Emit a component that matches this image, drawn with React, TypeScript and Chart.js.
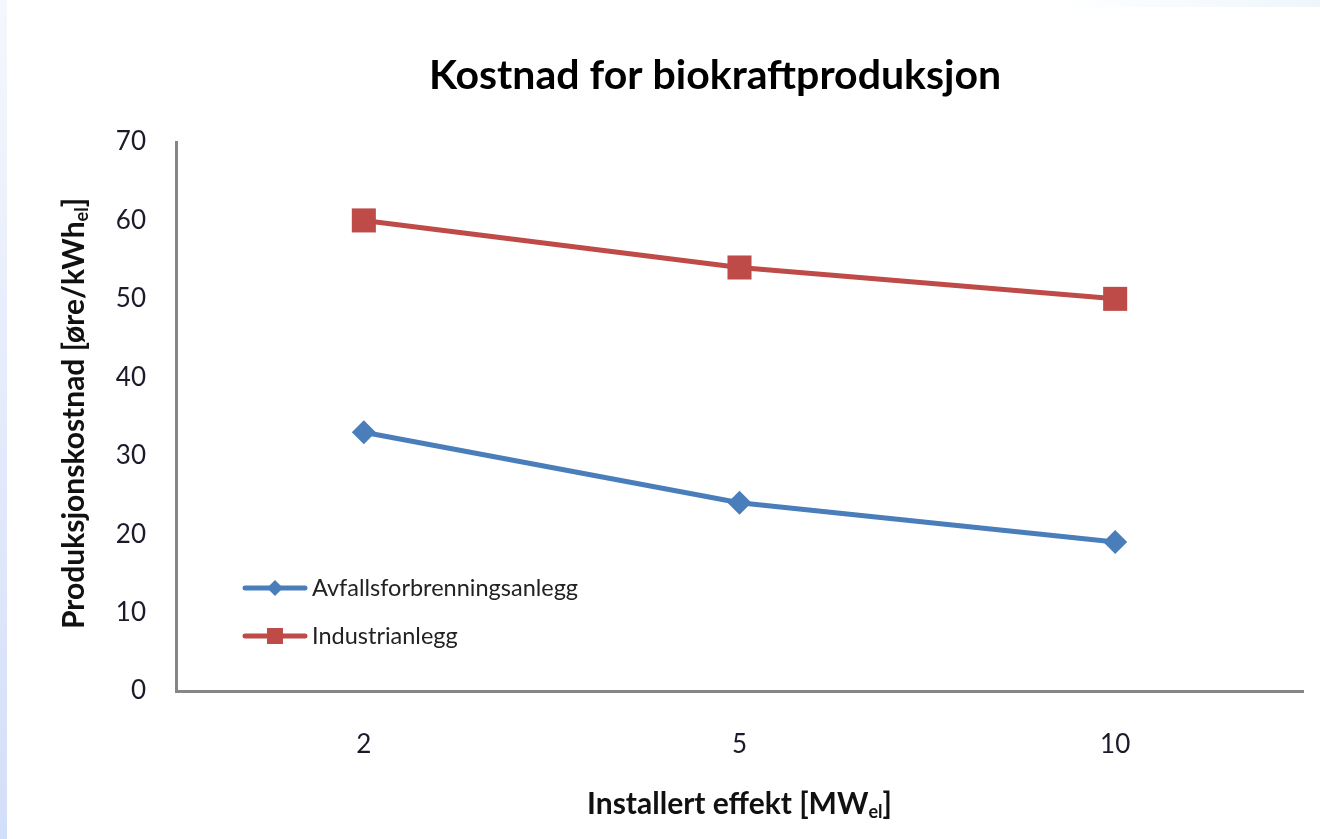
import React, { useEffect, useRef } from "react";
import { Chart, registerables } from "chart.js";

Chart.register(...registerables);

const TITLE = "Kostnad for biokraftproduksjon";
const X_TITLE_MAIN = "Installert effekt [MW";
const Y_TITLE_MAIN = "Produksjonskostnad [øre/kWh";
const TITLE_SUB = "el";
const CATEGORIES = ["2", "5", "10"];
const SERIES_NAMES = ["Avfallsforbrenningsanlegg", "Industrianlegg"];
const AVFALL = [33, 24, 19];
const INDUSTRI = [60, 54, 50];
const Y_MIN = 0;
const Y_MAX = 70;
const Y_STEP = 10;

const BLUE = "#4A7EBB";
const RED = "#BE4B48";
const FONT = "Lato, 'Open Sans', sans-serif";

const W = 1320;
const H = 839;

function drawSubText(ctx: CanvasRenderingContext2D, main: string, sub: string, cx: number, cy: number, size: number) {
  const subSize = Math.round(size * 0.6);
  ctx.font = `bold ${size}px ${FONT}`;
  const mw = ctx.measureText(main).width;
  ctx.font = `bold ${subSize}px ${FONT}`;
  const sw = ctx.measureText(sub).width;
  ctx.font = `bold ${size}px ${FONT}`;
  const bw = ctx.measureText("]").width;
  const total = mw + sw + bw;
  let x = cx - total / 2;
  ctx.textBaseline = "middle";
  ctx.textAlign = "left";
  ctx.fillText(main, x, cy);
  x += mw;
  ctx.font = `bold ${subSize}px ${FONT}`;
  ctx.fillText(sub, x, cy + size * 0.28);
  x += sw;
  ctx.font = `bold ${size}px ${FONT}`;
  ctx.fillText("]", x, cy);
}

const decorPlugin = {
  id: "decor",
  afterDraw(chart: any) {
    const ctx: CanvasRenderingContext2D = chart.ctx;
    const area = chart.chartArea;
    ctx.save();
    // chart title
    ctx.fillStyle = "#000";
    ctx.font = `bold 41px ${FONT}`;
    ctx.textAlign = "center";
    ctx.textBaseline = "middle";
    ctx.fillText(TITLE, 715, 76);

    ctx.fillStyle = "#111";
    // x axis title
    drawSubText(ctx, X_TITLE_MAIN, TITLE_SUB, (area.left + area.right) / 2, 804, 30);
    // y axis title
    ctx.save();
    ctx.translate(74, (area.top + area.bottom) / 2 - 3);
    ctx.rotate(-Math.PI / 2);
    drawSubText(ctx, Y_TITLE_MAIN, TITLE_SUB, 0, 0, 30);
    ctx.restore();

    // legend
    const items = [
      { name: SERIES_NAMES[0], color: BLUE, style: "diamond", y: 588 },
      { name: SERIES_NAMES[1], color: RED, style: "square", y: 636 },
    ];
    for (const it of items) {
      ctx.strokeStyle = it.color;
      ctx.lineWidth = 5;
      ctx.lineCap = "round";
      ctx.beginPath();
      ctx.moveTo(245, it.y);
      ctx.lineTo(305, it.y);
      ctx.stroke();
      ctx.fillStyle = it.color;
      ctx.beginPath();
      if (it.style === "diamond") {
        const r = 8;
        ctx.moveTo(275 - r, it.y);
        ctx.lineTo(275, it.y - r);
        ctx.lineTo(275 + r, it.y);
        ctx.lineTo(275, it.y + r);
        ctx.closePath();
      } else {
        ctx.rect(275 - 8, it.y - 8, 16, 16);
      }
      ctx.fill();
      ctx.fillStyle = "#222";
      ctx.font = `23.5px ${FONT}`;
      ctx.textAlign = "left";
      ctx.textBaseline = "middle";
      ctx.fillText(it.name, 312, it.y);
    }
    ctx.restore();
  },
};

export default function App() {
  const ref = useRef<HTMLCanvasElement | null>(null);
  useEffect(() => {
    document.body.style.margin = "0";
    const canvas = ref.current!;
    const chart = new Chart(canvas, {
      type: "line",
      data: {
        labels: CATEGORIES,
        datasets: [
          {
            label: SERIES_NAMES[0],
            data: AVFALL,
            borderColor: BLUE,
            backgroundColor: BLUE,
            borderWidth: 5,
            pointStyle: "rectRot",
            pointRadius: 12,
            pointBorderWidth: 0,
            tension: 0,
          },
          {
            label: SERIES_NAMES[1],
            data: INDUSTRI,
            borderColor: RED,
            backgroundColor: RED,
            borderWidth: 5,
            pointStyle: "rect",
            pointRadius: 17,
            pointBorderWidth: 0,
            tension: 0,
          },
        ],
      },
      options: {
        animation: false,
        responsive: false,
        devicePixelRatio: 1,
        layout: { padding: { top: 142, right: 17, bottom: 0, left: 0 } },
        plugins: {
          legend: { display: false },
          tooltip: { enabled: false },
          title: { display: false },
        },
        scales: {
          x: {
            type: "category",
            offset: true,
            grid: { display: false, drawTicks: false },
            border: { display: true, color: "#868686", width: 3 },
            ticks: { color: "#1a1a2a", font: { family: FONT, size: 26 }, padding: 38 },
            afterFit(scale: any) {
              scale.height = H - 691;
            },
          },
          y: {
            min: Y_MIN,
            max: Y_MAX,
            grid: { display: false, drawTicks: false },
            border: { display: true, color: "#868686", width: 3 },
            ticks: { stepSize: Y_STEP, color: "#1a1a2a", font: { family: FONT, size: 26 }, padding: 30 },
            afterFit(scale: any) {
              scale.width = 176;
            },
          },
        },
      },
      plugins: [decorPlugin],
    } as any);
    return () => chart.destroy();
  }, []);

  return (
    <div style={{ position: "absolute", left: 0, top: 0, width: W, height: H, background: "#fff", overflow: "hidden" }}>
      <div
        style={{
          position: "absolute",
          left: 0,
          top: 0,
          width: 7,
          height: H,
          background: "linear-gradient(to bottom, #f4f7fd, #d3def8)",
        }}
      />
      <div
        style={{
          position: "absolute",
          left: 1050,
          top: 0,
          width: 270,
          height: 7,
          background: "linear-gradient(to right, rgba(240,248,252,0), #eef6fc)",
        }}
      />
      <canvas ref={ref} width={W} height={H} style={{ position: "absolute", left: 0, top: 0, width: W, height: H }} />
    </div>
  );
}
